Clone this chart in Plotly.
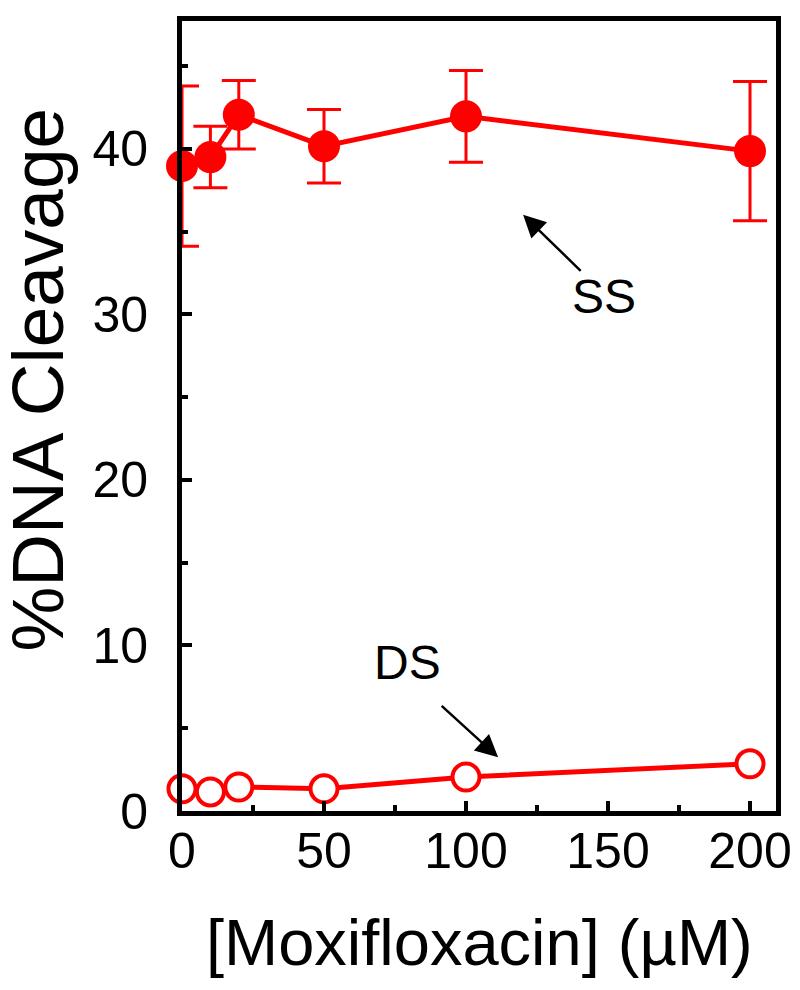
import plotly.graph_objects as go

# Data
conc = [0, 10, 20, 50, 100, 200]
ss_vals = [38.96, 39.5, 42.06, 40.16, 41.96, 39.86]
ss_err = [4.84, 1.86, 2.07, 2.22, 2.77, 4.2]
ds_vals = [1.34, 1.15, 1.45, 1.34, 2.05, 2.85]

x_ticks = [0, 50, 100, 150, 200]
y_ticks = [0, 10, 20, 30, 40]

RED = "#ff0000"
FONT = "Liberation Sans, Arial, sans-serif"

fig = go.Figure()

fig.add_trace(go.Scatter(
    x=conc, y=ds_vals, mode="lines+markers", name="DS",
    line=dict(color=RED, width=5),
    marker=dict(symbol="circle", size=27, color="white",
                line=dict(color=RED, width=4)),
    cliponaxis=False, showlegend=False,
))

fig.add_trace(go.Scatter(
    x=conc, y=ss_vals, mode="lines+markers", name="SS",
    line=dict(color=RED, width=5),
    marker=dict(symbol="circle", size=32, color=RED),
    error_y=dict(type="data", array=ss_err, visible=True,
                 color=RED, thickness=3, width=17),
    cliponaxis=False, showlegend=False,
))

axis_common = dict(
    showline=True, linewidth=5, linecolor="black", mirror=True,
    showgrid=False, zeroline=False,
    ticks="inside", ticklen=10, tickwidth=4, tickcolor="black",
    tickfont=dict(family=FONT, size=50, color="black"),
)

fig.update_xaxes(range=[0, 209.15], tickvals=x_ticks,
                 ticktext=[str(v) for v in x_ticks],
                 ticklabelstandoff=-8,
                 minor=dict(ticks="inside", ticklen=6, tickwidth=4,
                            tickcolor="black", dtick=25, tick0=0),
                 **axis_common)
fig.update_yaxes(range=[0, 47.72], tickvals=y_ticks,
                 ticktext=[str(v) for v in y_ticks],
                 ticklabelstandoff=19,
                 minor=dict(ticks="inside", ticklen=6, tickwidth=4,
                            tickcolor="black", dtick=5, tick0=0),
                 **axis_common)

arrow_style = dict(showarrow=True, arrowhead=2, arrowsize=1.8,
                   arrowwidth=2.5, arrowcolor="black", text="",
                   xref="x", yref="y", axref="x", ayref="y")

annotations = [
    dict(text="[Moxifloxacin] (µM)", xref="paper", yref="paper",
         x=0.5, y=-0.166, xanchor="center", yanchor="middle",
         showarrow=False, font=dict(family=FONT, size=65, color="black")),
    dict(text="%DNA Cleavage", xref="paper", yref="paper",
         x=-0.2432, y=0.5455, xanchor="center", yanchor="middle",
         textangle=-90, showarrow=False,
         font=dict(family=FONT, size=73, color="black")),
    dict(text="SS", x=148.6, y=31.07, xref="x", yref="y",
         showarrow=False, font=dict(family=FONT, size=48, color="black")),
    dict(text="DS", x=79.3, y=9.0, xref="x", yref="y",
         showarrow=False, font=dict(family=FONT, size=48, color="black")),
    dict(x=120.1, y=36.02, ax=140.9, ay=32.54, **arrow_style),
    dict(x=111.3, y=3.24, ax=90.9, ay=6.43, **arrow_style),
]

fig.update_layout(
    width=792, height=982,
    margin=dict(l=174, r=24, t=8, b=179),
    plot_bgcolor="white", paper_bgcolor="white",
    annotations=annotations,
    font=dict(family=FONT),
)

fig.write_html("out.html")
